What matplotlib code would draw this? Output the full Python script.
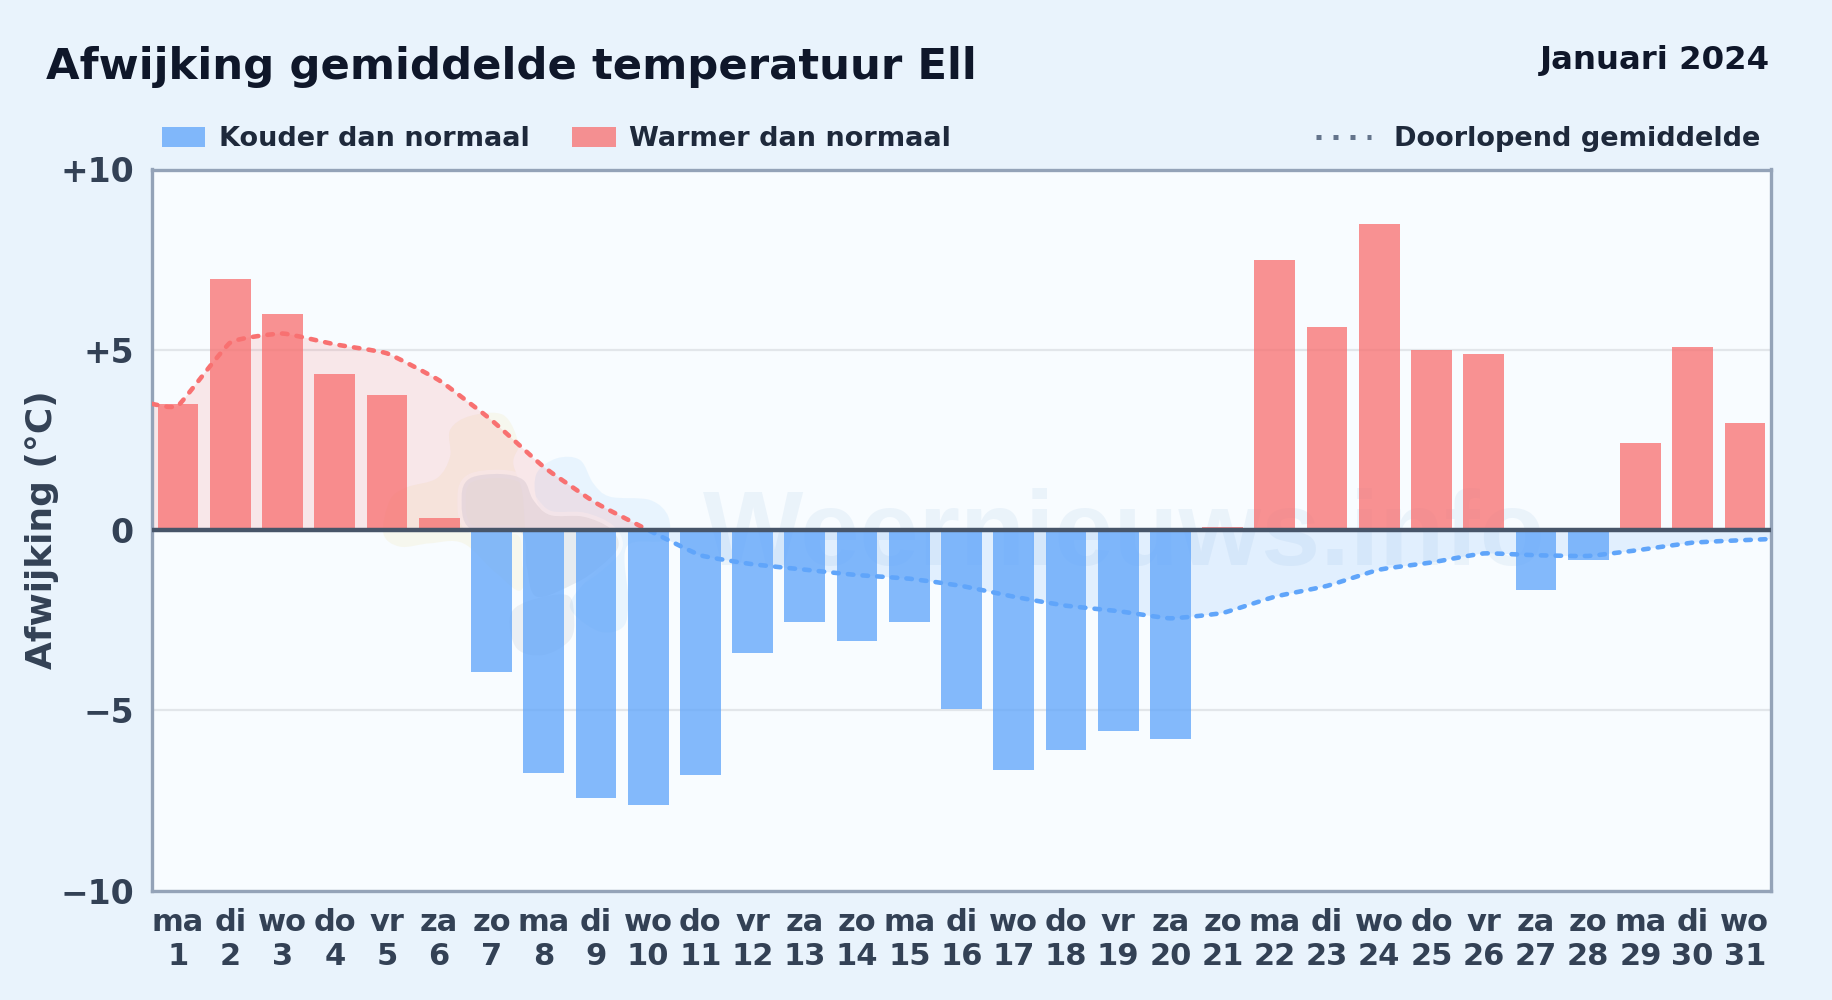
#!/usr/bin/env python3
import matplotlib
matplotlib.use("Agg")
import matplotlib.pyplot as plt
import numpy as np
from matplotlib.lines import Line2D
from matplotlib.patches import Patch, PathPatch, Rectangle
from matplotlib.path import Path
from matplotlib.transforms import Affine2D

plt.rcParams["font.family"] = "DejaVu Sans"
plt.rcParams["font.weight"] = "bold"

day_names = ["ma", "di", "wo", "do", "vr", "za", "zo"]
days = list(range(1, 32))
deviation = [3.49, 6.96, 5.99, 4.33, 3.75, 0.33, -3.93, -6.73, -7.44, -7.63,
             -6.79, -3.42, -2.54, -3.09, -2.54, -4.97, -6.67, -6.10, -5.58, -5.81,
             0.09, 7.50, 5.63, 8.48, 4.98, 4.88, -1.66, -0.82, 2.42, 5.07, 2.97]
running_x = [0.5] + days + [31.5]
running = [3.5, 3.45, 5.2, 5.45, 5.15, 4.9, 4.15, 3.05, 1.75, 0.75, 0.0,
           -0.7, -0.95, -1.1, -1.25, -1.35, -1.55, -1.85, -2.1, -2.25, -2.45,
           -2.3, -1.85, -1.55, -1.1, -0.9, -0.65, -0.7, -0.72, -0.55, -0.35, -0.28, -0.25]

BLUE = "#60a5fa"
RED = "#f87171"
INK = "#334155"
FACE = "#f8fcff"

# watermark logo outlines, traced in pixels from a crop at (370, 400), 3x
logo_sun = [(240, 90), (300, 48), (400, 45), (445, 130), (430, 190), (460, 300), (460, 560), (380, 520),
            (280, 430), (180, 430), (90, 440), (40, 400), (60, 300), (110, 262), (200, 235), (240, 170)]
logo_blue = [(500, 220), (560, 175), (630, 180), (670, 250), (720, 290), (840, 300), (895, 350), (885, 420),
             (770, 440), (775, 600), (760, 680), (690, 695), (610, 640), (610, 590), (700, 490), (745, 440),
             (720, 385), (640, 350), (540, 345), (500, 300)]
logo_cloud = [(275, 290), (300, 235), (390, 222), (460, 240), (490, 300), (540, 345), (640, 350), (720, 385),
              (745, 440), (690, 500), (615, 550), (500, 590), (470, 500), (450, 395), (300, 385)]
logo_low = [(420, 650), (470, 605), (590, 585), (612, 650), (600, 720), (520, 765), (440, 745)]


def smooth_path(xs, ys, tension=0.13):
    # bezier through the points, same look as a canvas line with tension
    xs = np.array(xs, dtype=float)
    ys = np.array(ys, dtype=float)
    verts = [(xs[0], ys[0])]
    codes = [Path.MOVETO]
    for i in range(len(xs) - 1):
        a = max(i - 1, 0)
        b = min(i + 2, len(xs) - 1)
        verts.append((xs[i] + (xs[i + 1] - xs[a]) * tension / 2, ys[i] + (ys[i + 1] - ys[a]) * tension / 2))
        verts.append((xs[i + 1] - (xs[b] - xs[i]) * tension / 2, ys[i + 1] - (ys[b] - ys[i]) * tension / 2))
        verts.append((xs[i + 1], ys[i + 1]))
        codes += [Path.CURVE4] * 3
    return verts, codes


def blob_path(points):
    pts = np.array(points + points[:3], dtype=float)
    verts = [tuple(pts[1])]
    codes = [Path.MOVETO]
    for i in range(1, len(points) + 1):
        verts.append(tuple(pts[i] + (pts[i + 1] - pts[i - 1]) / 6))
        verts.append(tuple(pts[i + 1] - (pts[i + 2] - pts[i]) / 6))
        verts.append(tuple(pts[i + 1]))
        codes += [Path.CURVE4] * 3
    return Path(verts, codes)


fig = plt.figure(figsize=(18.32, 10), dpi=100, facecolor="#e9f3fc")
ax = fig.add_axes([152 / 1832, 1 - 890.5 / 1000, (1771 - 152) / 1832, (890.5 - 169.5) / 1000])
ax.set_facecolor(FACE)
ax.set_xlim(0.5, 31.5)
ax.set_ylim(-10, 10)

# watermark
ax.text(703 / 1832, 1 - 565 / 1000, "Weernieuws.info", transform=fig.transFigure, ha="left", va="baseline",
        fontsize=76.5, family="Liberation Sans", color="#3b82c6", alpha=0.07, zorder=1)
crop = Affine2D().scale(1 / 3, -1 / 3).translate(370, 1000 - 400)
for pts, color, alpha, ring in [(logo_sun, "#e6c84a", 0.09, False), (logo_blue, "#60b5fa", 0.10, False),
                                (logo_cloud, "#64748b", 0.12, True), (logo_low, "#64748b", 0.09, False)]:
    if ring:
        ax.add_patch(PathPatch(blob_path(pts), facecolor=FACE, edgecolor=FACE, linewidth=6, alpha=0.7,
                               transform=crop, zorder=1))
    ax.add_patch(PathPatch(blob_path(pts), facecolor=color, edgecolor="none", alpha=alpha,
                           transform=crop, zorder=1))

ax.grid(axis="y", color="#e2e6ea", linewidth=1.6, zorder=1)
ax.set_axisbelow(True)

# area and dashes of the running mean, red above zero, blue below
verts, codes = smooth_path(running_x, running)
area = Path(verts + [(running_x[-1], 0), (running_x[0], 0), (running_x[0], 0)],
            codes + [Path.LINETO, Path.LINETO, Path.CLOSEPOLY])
curve = Path(verts, codes)
for color, y0, h in [(RED, 0, 10), (BLUE, -10, 10)]:
    clip = Rectangle((0.5, y0), 31, h, transform=ax.transData)
    p = ax.add_patch(PathPatch(area, facecolor=color, edgecolor="none", alpha=0.15, zorder=2))
    p.set_clip_path(clip)
    p = ax.add_patch(PathPatch(curve, facecolor="none", edgecolor=color, linewidth=3.3,
                               linestyle=(0, (1.2, 2.0)), capstyle="round", zorder=5))
    p.set_clip_path(clip)

colors = [RED if v >= 0 else BLUE for v in deviation]
ax.bar(days, deviation, width=0.78, color=colors, alpha=0.77, linewidth=0, zorder=3)
ax.axhline(0, color="#475569", linewidth=3.2, zorder=6)

for s in ax.spines.values():
    s.set_color("#94a3b8")
    s.set_linewidth(2.4)
ax.set_yticks([-10, -5, 0, 5, 10])
ax.set_yticklabels(["\u221210", "\u22125", "0", "+5", "+10"])
ax.set_xticks(days)
ax.set_xticklabels([f"{day_names[(d - 1) % 7]}\n{d}" for d in days], linespacing=1.24)
ax.tick_params(axis="both", length=0, labelcolor=INK)
ax.tick_params(axis="y", pad=13, labelsize=23.8)
ax.tick_params(axis="x", pad=12.5, labelsize=22)
ax.set_ylabel("Afwijking (\u00b0C)", fontsize=25.9, fontweight="bold", color=INK, labelpad=1)

fig.text(46 / 1832, 1 - 67.5 / 1000, "Afwijking gemiddelde temperatuur Ell", fontsize=31.2,
         color="#0f172a", va="center")
fig.text(1770 / 1832, 1 - 61 / 1000, "Januari 2024", fontsize=23.3, color="#0f172a",
         ha="right", va="center")

# two legends, the gap in the middle of the row is in the original too
fig.legend(handles=[Patch(facecolor=BLUE, edgecolor="none", alpha=0.77, label="Kouder dan normaal"),
                    Patch(facecolor=RED, edgecolor="none", alpha=0.77, label="Warmer dan normaal")],
           loc="center left", bbox_to_anchor=(162 / 1832, 1 - 139.5 / 1000), ncol=2, frameon=False,
           fontsize=19.5, labelcolor="#1e293b", handlelength=1.6, handleheight=0.72,
           handletextpad=0.5, columnspacing=1.58, borderpad=0, borderaxespad=0)
fig.legend(handles=[Line2D([], [], color="#64748b", linewidth=3.6, linestyle=(0, (1, 2.4)),
                           label="Doorlopend gemiddelde")],
           loc="center right", bbox_to_anchor=(1760 / 1832, 1 - 139.5 / 1000), frameon=False,
           fontsize=19.5, labelcolor="#1e293b", handlelength=2.05, handletextpad=0.82,
           borderpad=0, borderaxespad=0)

fig.savefig("out.png", dpi=100, facecolor=fig.get_facecolor())
